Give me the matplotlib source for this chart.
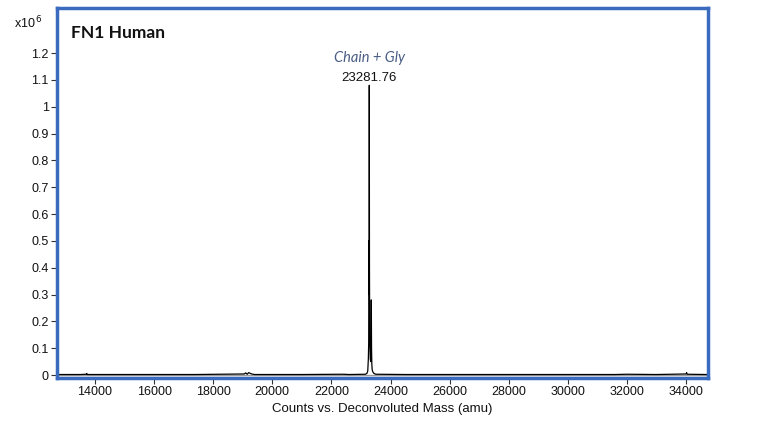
import matplotlib
matplotlib.use("Agg")
import matplotlib.pyplot as plt

# Spectrum (mass in amu, counts in units of 1e6)
mass = [12750, 13500, 13700, 13720, 13740, 15000, 17400, 19050, 19100, 19150,
        19200, 19300, 19400, 21000, 22400, 22600, 23150, 23200, 23230, 23250,
        23262, 23270, 23276, 23281.76, 23288, 23296, 23305, 23315, 23330,
        23342, 23350, 23358, 23368, 23380, 23400, 23440, 23500, 24500,
        26000, 28000, 30000, 31600, 32000, 33000, 34000, 34020, 34040, 34700]
counts = [0.002, 0.002, 0.003, 0.006, 0.002, 0.002, 0.002, 0.004, 0.008, 0.003,
          0.009, 0.004, 0.002, 0.002, 0.003, 0.002, 0.003, 0.006, 0.015, 0.06,
          0.12, 0.50, 0.30, 1.08, 0.40, 0.15, 0.10, 0.06, 0.05,
          0.09, 0.28, 0.10, 0.04, 0.02, 0.012, 0.006, 0.003, 0.002,
          0.002, 0.002, 0.002, 0.002, 0.003, 0.002, 0.004, 0.009, 0.003, 0.002]

peak_mass = 23281.76
peak_height = 1.08
peak_label = "23281.76"
peak_name = "Chain + Gly"
title = "FN1 Human"

xticks = [14000, 16000, 18000, 20000, 22000, 24000, 26000, 28000, 30000, 32000, 34000]
yticks = [0, 0.1, 0.2, 0.3, 0.4, 0.5, 0.6, 0.7, 0.8, 0.9, 1.0, 1.1, 1.2]
ytick_labels = ["0", "0.1", "0.2", "0.3", "0.4", "0.5", "0.6", "0.7", "0.8", "0.9", "1", "1.1", "1.2"]

plt.rcParams['font.family'] = ['Liberation Sans', 'DejaVu Sans']

fig = plt.figure(figsize=(7.68, 4.23), dpi=100)
ax = fig.add_axes([57/768, (423-378)/423, (708-57)/768, (378-8)/423])

ax.axhline(0, color="#9a9a9a", lw=1.0, zorder=1)
ax.plot(mass, counts, color="black", lw=0.9, zorder=2)

ax.set_xlim(12714, 34744)
ax.set_ylim(-0.011, 1.368)
ax.set_xticks(xticks)
ax.set_xticklabels([str(t) for t in xticks])
ax.set_yticks(yticks)
ax.set_yticklabels(ytick_labels)
ax.tick_params(axis="both", direction="out", length=4, width=0.8, labelsize=9,
               color="#333333", labelcolor="#111111", pad=2)

for s in ax.spines.values():
    s.set_color("#3a6bbf")
    s.set_linewidth(2.5)

ax.set_xlabel("Counts vs. Deconvoluted Mass (amu)", fontsize=9.5, labelpad=3, color="#111111")

ax.text(0.022, 0.955, title, transform=ax.transAxes, fontsize=12.5, fontweight="bold",
        family=["Lato", "DejaVu Sans"], va="top", ha="left", color="#111111")
ax.text(peak_mass, peak_height + 0.005, peak_label, ha="center", va="bottom",
        fontsize=9.5, color="#111111")
ax.text(peak_mass, peak_height + 0.075, peak_name, ha="center", va="bottom",
        fontsize=10.5, style="italic", family=["Lato", "DejaVu Sans"], color="#4a5d85")

fig.text(14/768, 1 - 23/423, r"x10$^{\,6}$", fontsize=9, ha="left", va="center", color="#111111")

fig.savefig("out.png", dpi=100)
